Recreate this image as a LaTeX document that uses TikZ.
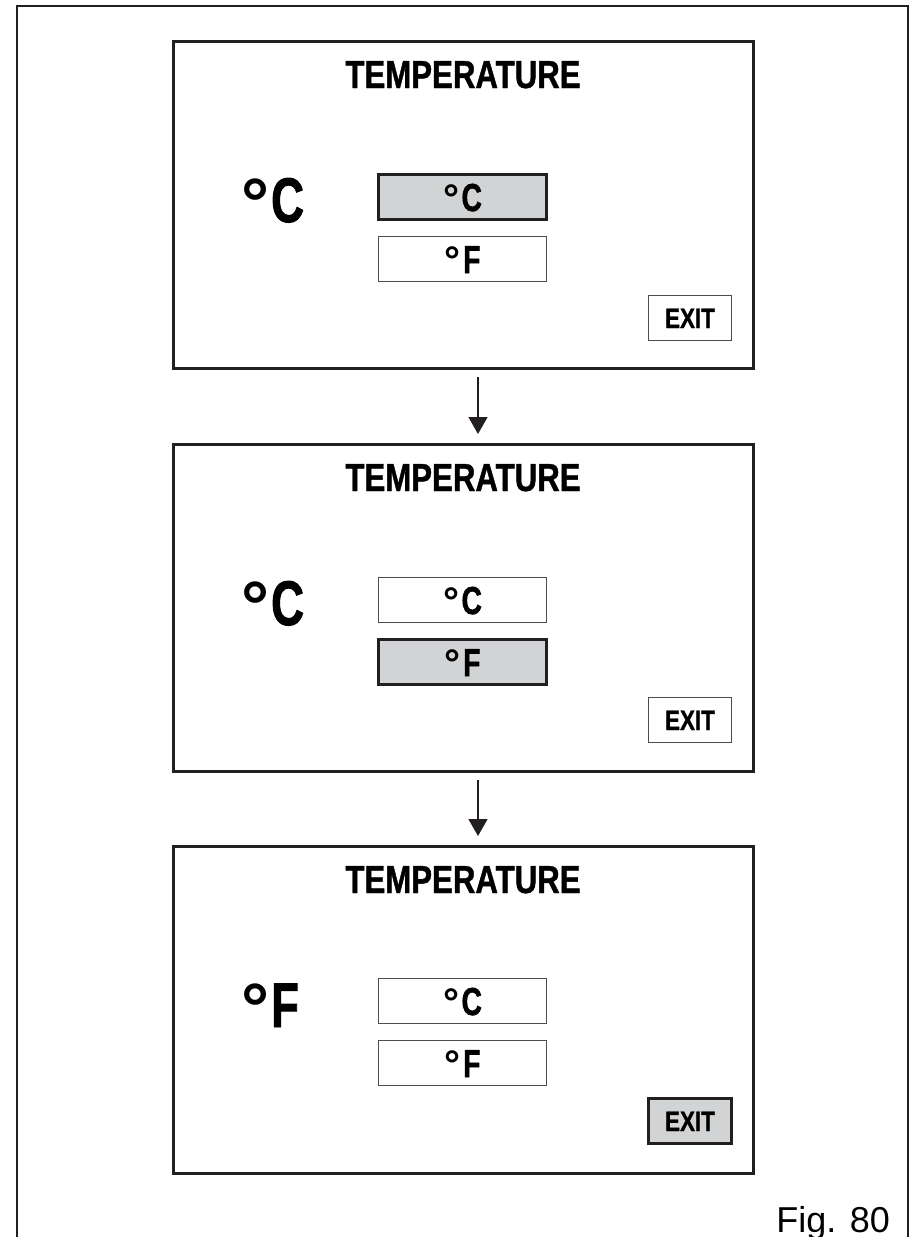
\documentclass[tikz,border=0pt]{standalone}
\usepackage{fontspec}
\setmainfont{Liberation Sans}
\newfontfamily\cond[FakeStretch=0.8,FakeBold=1]{Liberation Sans}
\newfontfamily\ncond[FakeStretch=0.72,FakeBold=1.5]{Liberation Sans}
\newfontfamily\degfont{Liberation Sans}
\newcommand\degsym[2]{\raisebox{#2}{\degfont\bfseries\fontsize{#1}{#1}\selectfont °}}
\newcommand\bigdeg{\degsym{70}{-5pt}\hspace{2pt}}
\newcommand\btndeg{\degsym{40}{-1pt}\hspace{2.5pt}}
\usetikzlibrary{arrows.meta}
\definecolor{ink}{HTML}{231F20}
\definecolor{selgray}{HTML}{D1D3D4}
\tikzset{
  panel/.style={draw=ink, line width=3pt, minimum width=580pt, minimum height=327pt, inner sep=0pt},
  btn/.style={draw=ink!80, line width=1pt, minimum width=168pt, minimum height=45pt, inner sep=0pt,
    font=\ncond\bfseries\fontsize{39}{39}\selectfont, text height=28pt, text depth=0pt},
  selbtn/.style={btn, draw=ink, line width=3pt, fill=selgray},
  exitbtn/.style={btn, minimum width=83pt, font=\cond\bfseries\fontsize{28}{28}\selectfont, text height=20pt},
  selexit/.style={exitbtn, draw=ink, line width=3pt, fill=selgray},
  heading/.style={font=\cond\bfseries\fontsize{39}{39}\selectfont, anchor=base, inner sep=0pt},
  biglabel/.style={font=\ncond\bfseries\fontsize{63}{63}\selectfont, anchor=base west, inner sep=0pt},
  flow/.style={-{Triangle[width=19pt,length=17pt]}, line width=1.5pt, draw=ink, shorten <=7pt, shorten >=9pt},
  frame/.style={draw=ink, line width=1.5pt}
}
\begin{document}
\begin{tikzpicture}[x=1pt,y=-1pt]
\useasboundingbox (0,0) rectangle (911,1237);
\coordinate (fbl) at (17,1237);
\coordinate (ftl) at (17,6);
\coordinate (ftr) at (908,6);
\coordinate (fbr) at (908,1237);
\draw[frame] (fbl) -- (ftl) -- (ftr) -- (fbr);

% panel 1
\node[panel] (p1) at (463,205) {};
\node[heading] (t1) at (463,88) {TEMPERATURE};
\node[biglabel] (l1) at (241,222) {\bigdeg C};
\node[selbtn] (c1) at (462.5,197) {\btndeg C};
\node[btn] (f1) at (462.5,259) {\btndeg F};
\node[exitbtn] (e1) at (690,318) {EXIT};

% panel 2
\node[panel] (p2) at (463,608) {};
\node[heading] (t2) at (463,491) {TEMPERATURE};
\node[biglabel] (l2) at (241,625) {\bigdeg C};
\node[btn] (c2) at (462.5,600) {\btndeg C};
\node[selbtn] (f2) at (462.5,662) {\btndeg F};
\node[exitbtn] (e2) at (690,720) {EXIT};

% panel 3
\node[panel] (p3) at (463,1010) {};
\node[heading] (t3) at (463,893) {TEMPERATURE};
\node[biglabel] (l3) at (241,1027) {\bigdeg F};
\node[btn] (c3) at (462.5,1001) {\btndeg C};
\node[btn] (f3) at (462.5,1063) {\btndeg F};
\node[selexit] (e3) at (690,1121) {EXIT};

\draw[flow] ([xshift=15pt]p1.south) -- ([xshift=15pt]p2.north);
\draw[flow] ([xshift=15pt]p2.south) -- ([xshift=15pt]p3.north);

\node[font=\fontsize{36}{36}\selectfont, anchor=base east, inner sep=0pt] (fig) at (890,1232) {Fig. 80};
\end{tikzpicture}
\end{document}
